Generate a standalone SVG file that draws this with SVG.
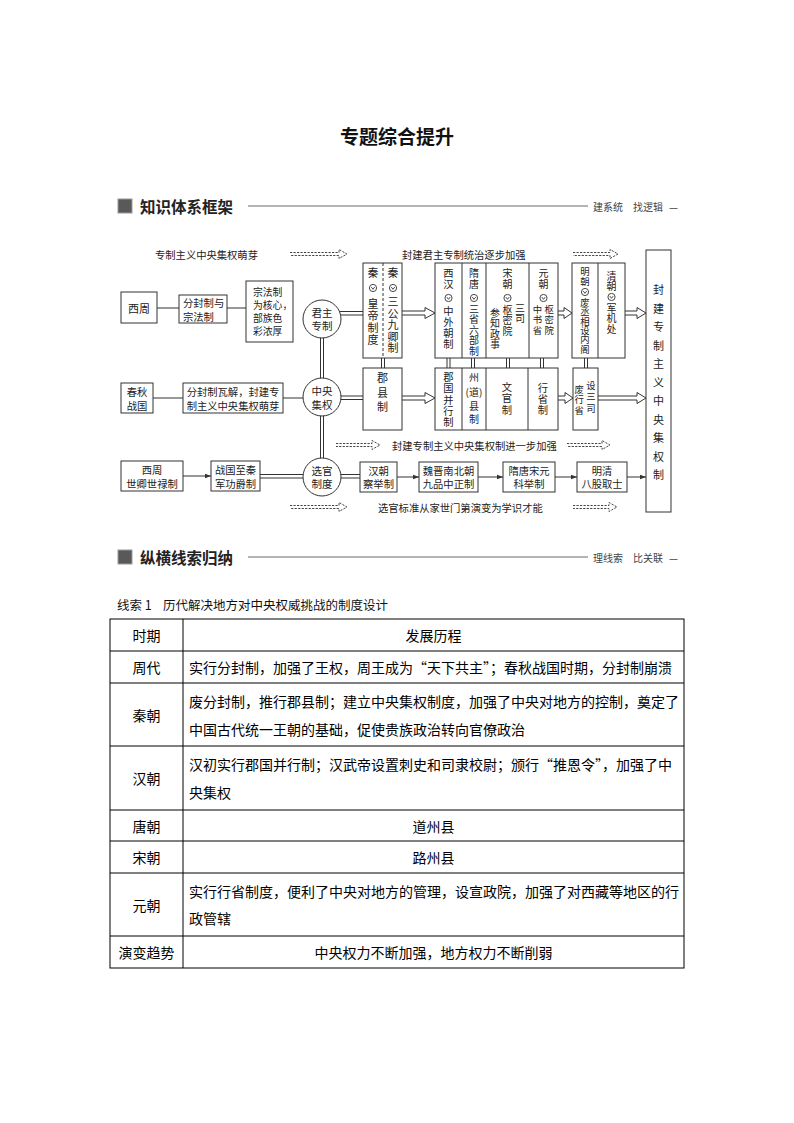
<svg xmlns="http://www.w3.org/2000/svg" width="794" height="1123" viewBox="0 0 794 1123">
<style>
text{font-family:"Noto Sans CJK SC","Noto Sans",sans-serif;fill:#222;dominant-baseline:central}
.ttl{font-size:19px;font-weight:bold;fill:#111}
.h{font-size:15.5px;font-weight:bold;fill:#222}
.hr{font-size:10px;fill:#444}
.d{font-size:10.3px}
.s{font-size:11px}
.cs{font-size:10.5px}
.sm{font-size:10px}
.zs{font-size:9.8px}
.xs{font-size:9.4px}
.v{writing-mode:vertical-rl}
.tb{font-size:14px;fill:#000}
.c{text-anchor:middle}
.box{fill:#fff;stroke:#333;stroke-width:1}
.cir{fill:#fff;stroke:#333;stroke-width:1}
.ln{fill:none;stroke:#333;stroke-width:1}
.dl{fill:none;stroke:#444;stroke-width:1;stroke-dasharray:2.2 1.3}
.dv{fill:none;stroke:#333;stroke-width:1;stroke-dasharray:3 2}
.tl{fill:none;stroke:#000;stroke-width:1}
.sq{fill:#595959;stroke:#9a9a9a;stroke-width:1}
.hl{stroke:#444;stroke-width:0.8}
</style>
<defs>
<g id="ov"><circle r="3.6" fill="none" stroke="#333" stroke-width="0.9"/><path d="M-1.7,-0.9 L0,1.3 L1.7,-0.9" fill="none" stroke="#333" stroke-width="0.9"/></g>
<marker id="ah" viewBox="0 0 8 8" refX="8" refY="4" markerWidth="6" markerHeight="6" orient="auto" markerUnits="userSpaceOnUse"><path d="M0,1 L8,4 L0,7 Z" fill="#333"/></marker>
</defs>
<rect width="794" height="1123" fill="#fff"/>

<g id="title"><text class="ttl c" x="397" y="135">专题综合提升</text></g>

<g id="header1">
<rect class="sq" x="118" y="199" width="14" height="14"/>
<text class="h" x="140" y="206">知识体系框架</text>
<line class="hl" x1="248" y1="206" x2="588" y2="206"/>
<text class="hr" x="593" y="206">建系统</text>
<text class="hr" x="633" y="206">找逻辑</text>
<text class="hr" x="669" y="206">—</text>
</g>

<g id="connectors">
<path class="dl" d="M290,252.5 H339 V249.5 L347,254 L339,258.5 V255.5 H290"/>
<path class="dl" d="M573,252.5 H610 V249.5 L618,254 L610,258.5 V255.5 H573"/>
<path class="dl" d="M336,443.5 H372 V440.5 L380,445 L372,449.5 V446.5 H336"/>
<path class="dl" d="M567,443.5 H602 V440.5 L610,445 L602,449.5 V446.5 H567"/>
<path class="dl" d="M290,505.5 H339 V502.5 L347,507 L339,511.5 V508.5 H290"/>
<path class="dl" d="M573,505.5 H609 V502.5 L617,507 L609,511.5 V508.5 H573"/>
<line class="ln" x1="157" y1="308" x2="179" y2="308"/>
<line class="ln" x1="227" y1="308" x2="246" y2="308"/>
<line class="ln" x1="153" y1="398" x2="183" y2="398"/>
<line class="ln" x1="283" y1="398" x2="322" y2="398"/>
<path class="ln" d="M322,311.5 H363 M322,315 H363"/>
<path class="ln" d="M320.5,319 V477 M323.5,319 V477"/>
<path class="ln" d="M322,396 H363 M322,399.5 H363"/>
<path class="ln" d="M260,474.5 H322 M260,478 H322"/>
<path class="ln" d="M322,474.5 H360 M322,478 H360"/>
<path class="ln" d="M381.5,358 V368 M384.5,358 V368"/>
<path class="ln" d="M447,358 V368 M450,358 V368"/>
<path class="ln" d="M471.5,358 V368 M474.5,358 V368"/>
<path class="ln" d="M506.5,358 V368 M509.5,358 V368"/>
<path class="ln" d="M540.5,358 V368 M543.5,358 V368"/>
<path class="ln" d="M584.5,358 V368 M587.5,358 V368"/>
<path class="ln" d="M402,311 H425 V307.5 L435,313 L425,318.5 V315 H402"/>
<path class="ln" d="M558,311 H564 V307.5 L572,313 L564,318.5 V315 H558"/>
<path class="ln" d="M625,311 H637 V307.5 L646,313 L637,318.5 V315 H625"/>
<path class="ln" d="M402,396 H425 V392.5 L435,398 L425,403.5 V400 H402"/>
<path class="ln" d="M558,396 H565 V392.5 L573,398 L565,403.5 V400 H558"/>
<path class="ln" d="M598,396 H637 V392.5 L646,398 L637,403.5 V400 H598"/>
<line class="ln" x1="183" y1="476" x2="211" y2="476" marker-end="url(#ah)"/>
<line class="ln" x1="397" y1="477" x2="419" y2="477" marker-end="url(#ah)"/>
<line class="ln" x1="478" y1="477" x2="503" y2="477" marker-end="url(#ah)"/>
<line class="ln" x1="555" y1="477" x2="577" y2="477" marker-end="url(#ah)"/>
<line class="ln" x1="627" y1="477" x2="646" y2="477" marker-end="url(#ah)"/>
</g>

<g id="labels">
<text class="d" x="155" y="254">专制主义中央集权萌芽</text>
<text class="d" x="402" y="254">封建君主专制统治逐步加强</text>
<text class="d" x="392" y="445">封建专制主义中央集权制进一步加强</text>
<text class="d" x="378" y="507">选官标准从家世门第演变为学识才能</text>
</g>

<g id="n-xizhou"><rect class="box" x="121" y="292" width="36" height="31"/><text class="s c" x="139" y="308">西周</text></g>
<g id="n-fenfeng"><rect class="box" x="179" y="295" width="48" height="28"/><text class="d" x="183" y="302">分封制与</text><text class="d" x="183" y="316">宗法制</text></g>
<g id="n-zongfa"><rect class="box" x="246" y="281" width="47" height="61"/>
<text class="zs" x="253" y="292">宗法制</text><text class="zs" x="253" y="305">为核心，</text><text class="zs" x="253" y="318">部族色</text><text class="zs" x="253" y="331">彩浓厚</text></g>

<g id="n-junzhu"><circle class="cir" cx="322" cy="319" r="19"/><text class="cs c" x="322" y="312">君主</text><text class="cs c" x="322" y="325.5">专制</text></g>
<g id="n-zhongyang"><circle class="cir" cx="322" cy="397" r="19"/><text class="cs c" x="322" y="390.5">中央</text><text class="cs c" x="322" y="404">集权</text></g>
<g id="n-xuanguan"><circle class="cir" cx="322" cy="477" r="19"/><text class="cs c" x="322" y="470.2">选官</text><text class="cs c" x="322" y="483.7">制度</text></g>

<g id="n-qin">
<rect class="box" x="363" y="263" width="39" height="95"/>
<line class="dv" x1="383" y1="263" x2="383" y2="358"/>
<text class="s v"><tspan x="373" y="267.5">秦</tspan><tspan x="373" y="298.5">皇</tspan><tspan x="373" y="310.5">帝</tspan><tspan x="373" y="322.5">制</tspan><tspan x="373" y="334.5">度</tspan></text>
<use href="#ov" x="373" y="288"/>
<text class="s v"><tspan x="393" y="267.5">秦</tspan><tspan x="393" y="296.5">三</tspan><tspan x="393" y="308">公</tspan><tspan x="393" y="319.5">九</tspan><tspan x="393" y="331">卿</tspan><tspan x="393" y="342.5">制</tspan></text>
<use href="#ov" x="393" y="288"/>
</g>

<g id="n-central-top">
<rect class="box" x="435" y="263" width="123" height="95"/>
<line class="ln" x1="462" y1="263" x2="462" y2="358"/>
<line class="ln" x1="486" y1="263" x2="486" y2="358"/>
<line class="ln" x1="529" y1="263" x2="529" y2="358"/>
<text class="d v"><tspan x="448.5" y="267.85">西</tspan><tspan x="448.5" y="278.85">汉</tspan><tspan x="448.5" y="305.85">中</tspan><tspan x="448.5" y="316.85">外</tspan><tspan x="448.5" y="327.85">朝</tspan><tspan x="448.5" y="338.85">制</tspan></text>
<use href="#ov" x="448.5" y="298"/>
<text class="sm v"><tspan x="474" y="268">隋</tspan><tspan x="474" y="279">唐</tspan><tspan x="474" y="304">三</tspan><tspan x="474" y="314.5">省</tspan><tspan x="474" y="325">六</tspan><tspan x="474" y="335.5">部</tspan><tspan x="474" y="346">制</tspan></text>
<use href="#ov" x="474" y="298"/>
<text class="sm v"><tspan x="507.5" y="268">宋</tspan><tspan x="507.5" y="279">朝</tspan><tspan x="507.5" y="305">枢</tspan><tspan x="507.5" y="315.5">密</tspan><tspan x="507.5" y="326">院</tspan></text>
<use href="#ov" x="507.5" y="298"/>
<text class="sm v"><tspan x="495" y="308">参</tspan><tspan x="495" y="318.5">知</tspan><tspan x="495" y="329">政</tspan><tspan x="495" y="339.5">事</tspan></text>
<text class="sm v"><tspan x="520" y="303">三</tspan><tspan x="520" y="313.5">司</tspan></text>
<text class="sm v"><tspan x="543.5" y="268">元</tspan><tspan x="543.5" y="279">朝</tspan></text>
<use href="#ov" x="543.5" y="298"/>
<text class="xs v"><tspan x="537.5" y="305">中</tspan><tspan x="537.5" y="315.4">书</tspan><tspan x="537.5" y="325.8">省</tspan></text>
<text class="xs v"><tspan x="549.2" y="305">枢</tspan><tspan x="549.2" y="315.4">密</tspan><tspan x="549.2" y="325.8">院</tspan></text>
</g>

<g id="n-mingqing">
<rect class="box" x="572" y="263" width="53" height="95"/>
<line class="ln" x1="598" y1="263" x2="598" y2="358"/>
<text class="xs v"><tspan x="585" y="267">明</tspan><tspan x="585" y="277">朝</tspan><tspan x="585" y="297.5">废</tspan><tspan x="585" y="306.9">丞</tspan><tspan x="585" y="316.3">相</tspan><tspan x="585" y="325.7">设</tspan><tspan x="585" y="335.1">内</tspan><tspan x="585" y="344.5">阁</tspan></text>
<use href="#ov" x="585" y="292"/>
<text class="sm v"><tspan x="611.5" y="271">清</tspan><tspan x="611.5" y="281.5">朝</tspan><tspan x="611.5" y="303">军</tspan><tspan x="611.5" y="313.5">机</tspan><tspan x="611.5" y="324">处</tspan></text>
<use href="#ov" x="611.5" y="297"/>
</g>

<g id="n-result">
<rect class="box" x="646" y="250" width="25" height="262"/>
<text class="s v"><tspan x="658.5" y="284.5">封</tspan><tspan x="658.5" y="303">建</tspan><tspan x="658.5" y="321.5">专</tspan><tspan x="658.5" y="340">制</tspan><tspan x="658.5" y="358.5">主</tspan><tspan x="658.5" y="377">义</tspan><tspan x="658.5" y="395.5">中</tspan><tspan x="658.5" y="414">央</tspan><tspan x="658.5" y="432.5">集</tspan><tspan x="658.5" y="451">权</tspan><tspan x="658.5" y="469.5">制</tspan></text>
</g>

<g id="n-chunqiu"><rect class="box" x="121" y="383" width="32" height="30"/><text class="d c" x="137" y="391.5">春秋</text><text class="d c" x="137" y="405">战国</text></g>
<g id="n-wajie"><rect class="box" x="183" y="383" width="100" height="30"/><text class="d c" x="233" y="391.5">分封制瓦解，封建专</text><text class="d c" x="233" y="405">制主义中央集权萌芽</text></g>

<g id="n-junxian">
<rect class="box" x="363" y="368" width="39" height="62"/>
<text class="s v"><tspan x="382.5" y="372.5">郡</tspan><tspan x="382.5" y="387">县</tspan><tspan x="382.5" y="401.5">制</tspan></text>
</g>

<g id="n-central-local">
<rect class="box" x="435" y="368" width="123" height="62"/>
<line class="ln" x1="462" y1="368" x2="462" y2="430"/>
<line class="ln" x1="486" y1="368" x2="486" y2="430"/>
<line class="ln" x1="528" y1="368" x2="528" y2="430"/>
<text class="d v"><tspan x="448.5" y="371.8">郡</tspan><tspan x="448.5" y="383.05">国</tspan><tspan x="448.5" y="394.3">并</tspan><tspan x="448.5" y="405.55">行</tspan><tspan x="448.5" y="416.8">制</tspan></text>
<text class="sm v"><tspan x="474" y="372">州</tspan></text>
<text class="sm c" x="474" y="391.5">(道)</text>
<text class="sm v"><tspan x="474" y="401">县</tspan><tspan x="474" y="414">制</tspan></text>
<text class="d v"><tspan x="507" y="381.8">文</tspan><tspan x="507" y="393.3">官</tspan><tspan x="507" y="404.8">制</tspan></text>
<text class="d v"><tspan x="543" y="382.8">行</tspan><tspan x="543" y="393.8">省</tspan><tspan x="543" y="404.8">制</tspan></text>
</g>

<g id="n-sansi">
<rect class="box" x="573" y="368" width="25" height="62"/>
<text class="xs v"><tspan x="579.3" y="385">废</tspan><tspan x="579.3" y="395.4">行</tspan><tspan x="579.3" y="405.8">省</tspan></text>
<text class="xs v"><tspan x="591" y="381">设</tspan><tspan x="591" y="392.4">三</tspan><tspan x="591" y="403.8">司</tspan></text>
</g>

<g id="n-shiqing"><rect class="box" x="121" y="461" width="62" height="30"/><text class="d c" x="152" y="469.5">西周</text><text class="d c" x="152" y="483">世卿世禄制</text></g>
<g id="n-jungong"><rect class="box" x="211" y="461" width="49" height="30"/><text class="d c" x="235.5" y="469.5">战国至秦</text><text class="d c" x="235.5" y="483">军功爵制</text></g>
<g id="n-chaju"><rect class="box" x="360" y="462" width="37" height="30"/><text class="d c" x="378.5" y="470">汉朝</text><text class="d c" x="378.5" y="483.5">察举制</text></g>
<g id="n-jiupin"><rect class="box" x="419" y="462" width="59" height="30"/><text class="d c" x="448.5" y="470">魏晋南北朝</text><text class="d c" x="448.5" y="483.5">九品中正制</text></g>
<g id="n-keju"><rect class="box" x="503" y="462" width="52" height="30"/><text class="d c" x="529" y="470">隋唐宋元</text><text class="d c" x="529" y="483.5">科举制</text></g>
<g id="n-bagu"><rect class="box" x="577" y="462" width="50" height="30"/><text class="d c" x="602" y="470">明清</text><text class="d c" x="602" y="483.5">八股取士</text></g>

<g id="header2">
<rect class="sq" x="118" y="550" width="14" height="14"/>
<text class="h" x="140" y="557">纵横线索归纳</text>
<line class="hl" x1="248" y1="557" x2="588" y2="557"/>
<text class="hr" x="593" y="557">理线索</text>
<text class="hr" x="633" y="557">比关联</text>
<text class="hr" x="669" y="557">—</text>
</g>

<g id="clue">
<text x="117" y="604" style="font-size:12.5px;fill:#111">线索 1</text>
<text x="163" y="604" style="font-size:12.5px;fill:#111">历代解决地方对中央权威挑战的制度设计</text>
</g>

<g id="table">
<rect class="tl" x="110" y="619" width="574" height="349"/>
<line class="tl" x1="183" y1="619" x2="183" y2="968"/>
<line class="tl" x1="110" y1="651" x2="684" y2="651"/>
<line class="tl" x1="110" y1="683" x2="684" y2="683"/>
<line class="tl" x1="110" y1="746" x2="684" y2="746"/>
<line class="tl" x1="110" y1="810" x2="684" y2="810"/>
<line class="tl" x1="110" y1="841" x2="684" y2="841"/>
<line class="tl" x1="110" y1="873" x2="684" y2="873"/>
<line class="tl" x1="110" y1="936" x2="684" y2="936"/>
<text class="tb c" x="146.5" y="635">时期</text>
<text class="tb c" x="433.5" y="635">发展历程</text>
<text class="tb c" x="146.5" y="667">周代</text>
<text class="tb" x="189" y="667">实行分封制，加强了王权，周王成为“天下共主”；春秋战国时期，分封制崩溃</text>
<text class="tb c" x="146.5" y="714.5">秦朝</text>
<text class="tb" x="189" y="701">废分封制，推行郡县制；建立中央集权制度，加强了中央对地方的控制，奠定了</text>
<text class="tb" x="189" y="729">中国古代统一王朝的基础，促使贵族政治转向官僚政治</text>
<text class="tb c" x="146.5" y="778">汉朝</text>
<text class="tb" x="189" y="764">汉初实行郡国并行制；汉武帝设置刺史和司隶校尉；颁行“推恩令”，加强了中</text>
<text class="tb" x="189" y="792">央集权</text>
<text class="tb c" x="146.5" y="825.5">唐朝</text>
<text class="tb c" x="433.5" y="825.5">道州县</text>
<text class="tb c" x="146.5" y="857">宋朝</text>
<text class="tb c" x="433.5" y="857">路州县</text>
<text class="tb c" x="146.5" y="904.5">元朝</text>
<text class="tb" x="189" y="890.5">实行行省制度，便利了中央对地方的管理，设宣政院，加强了对西藏等地区的行</text>
<text class="tb" x="189" y="918">政管辖</text>
<text class="tb c" x="146.5" y="952">演变趋势</text>
<text class="tb c" x="433.5" y="952">中央权力不断加强，地方权力不断削弱</text>
</g>
</svg>
